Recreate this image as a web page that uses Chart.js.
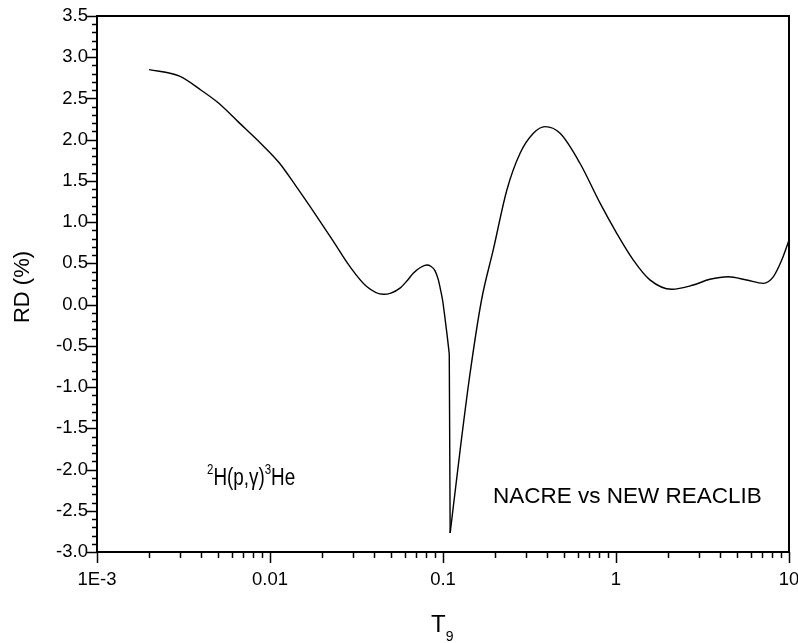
<!DOCTYPE html>
<html><head><meta charset="utf-8">
<script src="https://cdn.jsdelivr.net/npm/chart.js@4/dist/chart.umd.min.js"></script>
<style>html,body{margin:0;padding:0;background:#fff}#wrap{width:798px;height:643px;position:relative}</style>
</head><body><div id="wrap"><canvas id="c" width="798" height="643"></canvas></div>
<script>
// ---- data ----
const t9 = [0.002, 0.003, 0.004, 0.005, 0.0066, 0.009, 0.0113, 0.0141, 0.0185, 0.0232, 0.029, 0.0362, 0.0452, 0.050, 0.0564, 0.062, 0.0673, 0.074, 0.0805, 0.085, 0.090, 0.094, 0.097, 0.0995, 0.1025, 0.1055, 0.1087, 0.110, 0.125, 0.143, 0.167, 0.195, 0.234, 0.279, 0.333, 0.389, 0.475, 0.619, 0.809, 1.01, 1.26, 1.57, 2.1, 2.8, 3.49, 4.46, 5.69, 7.11, 8.13, 9.08, 10];
const rd = [2.85, 2.77, 2.60, 2.45, 2.21, 1.94, 1.72, 1.44, 1.08, 0.77, 0.46, 0.22, 0.125, 0.14, 0.20, 0.29, 0.38, 0.45, 0.48, 0.465, 0.41, 0.30, 0.17, 0.05, -0.15, -0.36, -0.60, -2.77, -1.80, -0.85, 0.056, 0.66, 1.39, 1.835, 2.077, 2.158, 2.077, 1.714, 1.23, 0.865, 0.54, 0.30, 0.186, 0.238, 0.307, 0.338, 0.298, 0.258, 0.34, 0.54, 0.78];
const xMajorValues = [0.001, 0.01, 0.1, 1, 10];
const xMajorLabels = ['1E-3', '0.01', '0.1', '1', '10'];
const yMin = -3.0, yMax = 3.5, yStep = 0.5, yMinorStep = 0.1;
const xTitle = 'T', xTitleSub = '9';
const yTitle = 'RD (%)';
const reactionParts = [['2', true], ['H(p,\u03b3)', false], ['3', true], ['He', false]];
const compareLabel = 'NACRE vs NEW REACLIB';

const FONT = '"Liberation Sans", Arial, sans-serif';

// split the curve around its near-vertical drop so the cusp stays sharp
const pts = t9.map((x, i) => ({ x: x, y: rd[i] }));
const tip = rd.indexOf(Math.min(...rd));
const partA = pts.slice(0, tip);
const partDrop = pts.slice(tip - 1, tip + 1);
const partB = pts.slice(tip);

const decorPlugin = {
  id: 'decor',
  afterDraw(chart) {
    const ctx = chart.ctx, xs = chart.scales.x, ys = chart.scales.y, a = chart.chartArea;
    ctx.save();
    ctx.strokeStyle = '#000';
    ctx.lineWidth = 1.5;
    ctx.beginPath();
    for (let d = -3; d <= 1; d++) {
      for (let m = 1; m <= 9; m++) {
        const v = m * Math.pow(10, d);
        if (v > 10.0001) break;
        const px = Math.round(xs.getPixelForValue(v)) + 0.5;
        const len = (m === 1) ? 11 : 6;
        ctx.moveTo(px, a.bottom); ctx.lineTo(px, a.bottom + len);
      }
    }
    const n = Math.round((yMax - yMin) / yMinorStep);
    for (let i = 0; i <= n; i++) {
      const v = yMin + i * yMinorStep;
      const py = Math.round(ys.getPixelForValue(v)) + 0.5;
      const len = (i % 5 === 0) ? 10 : 5;
      ctx.moveTo(a.left - len, py); ctx.lineTo(a.left, py);
    }
    ctx.stroke();
    ctx.lineWidth = 2;
    ctx.strokeRect(a.left, a.top, a.right - a.left, a.bottom - a.top);

    ctx.fillStyle = '#000';
    ctx.save();
    ctx.translate(23, (a.top + a.bottom) / 2 + 3);
    ctx.rotate(-Math.PI / 2);
    ctx.font = '22px ' + FONT;
    ctx.textAlign = 'center';
    ctx.textBaseline = 'middle';
    ctx.fillText(yTitle, 0, 0);
    ctx.restore();

    ctx.textBaseline = 'alphabetic';
    ctx.textAlign = 'left';
    ctx.font = '24px ' + FONT;
    const tx = 431, ty = 632;
    ctx.fillText(xTitle, tx, ty);
    const tw = ctx.measureText(xTitle).width;
    ctx.font = '14px ' + FONT;
    ctx.fillText(xTitleSub, tx + tw, ty + 9);

    // reaction label (narrow lettering, superscripts)
    ctx.save();
    ctx.translate(207, 485);
    ctx.scale(0.82, 1);
    let rx = 0;
    for (const [txt, sup] of reactionParts) {
      ctx.font = (sup ? '14px ' : '23px ') + FONT;
      ctx.fillText(txt, rx, sup ? -11 : 0);
      rx += ctx.measureText(txt).width;
    }
    ctx.restore();

    ctx.font = '22.5px ' + FONT;
    ctx.fillText(compareLabel, 493, 503);
    ctx.restore();
  }
};

const lineStyle = { borderColor: '#000', borderWidth: 1.4, pointRadius: 0, fill: false, cubicInterpolationMode: 'monotone' };

new Chart(document.getElementById('c'), {
  type: 'line',
  data: {
    datasets: [
      Object.assign({ data: partA }, lineStyle),
      Object.assign({ data: partDrop }, lineStyle),
      Object.assign({ data: partB }, lineStyle)
    ]
  },
  options: {
    responsive: false,
    animation: false,
    devicePixelRatio: 1,
    layout: { padding: { left: 0, top: 16, right: 9, bottom: 0 } },
    plugins: { legend: { display: false }, tooltip: { enabled: false } },
    scales: {
      x: {
        type: 'logarithmic',
        min: 0.001, max: 10,
        grid: { display: false, drawTicks: false },
        border: { display: false },
        afterBuildTicks: (s) => { s.ticks = xMajorValues.map(v => ({ value: v, major: true })); },
        ticks: {
          autoSkip: false, maxRotation: 0, padding: 17,
          color: '#000', font: { family: FONT, size: 18.5 },
          callback: (v) => { const i = xMajorValues.findIndex(t => Math.abs(t - v) / t < 1e-6); return i >= 0 ? xMajorLabels[i] : ''; }
        },
        afterFit: (s) => { s.height = 91; s.paddingLeft = 0; s.paddingRight = 0; }
      },
      y: {
        min: yMin, max: yMax,
        grid: { display: false, drawTicks: false },
        border: { display: false },
        ticks: {
          stepSize: yStep, padding: 9,
          color: '#000', font: { family: FONT, size: 18.5 },
          callback: (v) => Number(v).toFixed(1)
        },
        afterFit: (s) => { s.width = 97; s.paddingTop = 0; s.paddingBottom = 0; }
      }
    }
  },
  plugins: [decorPlugin]
});
</script></body></html>
